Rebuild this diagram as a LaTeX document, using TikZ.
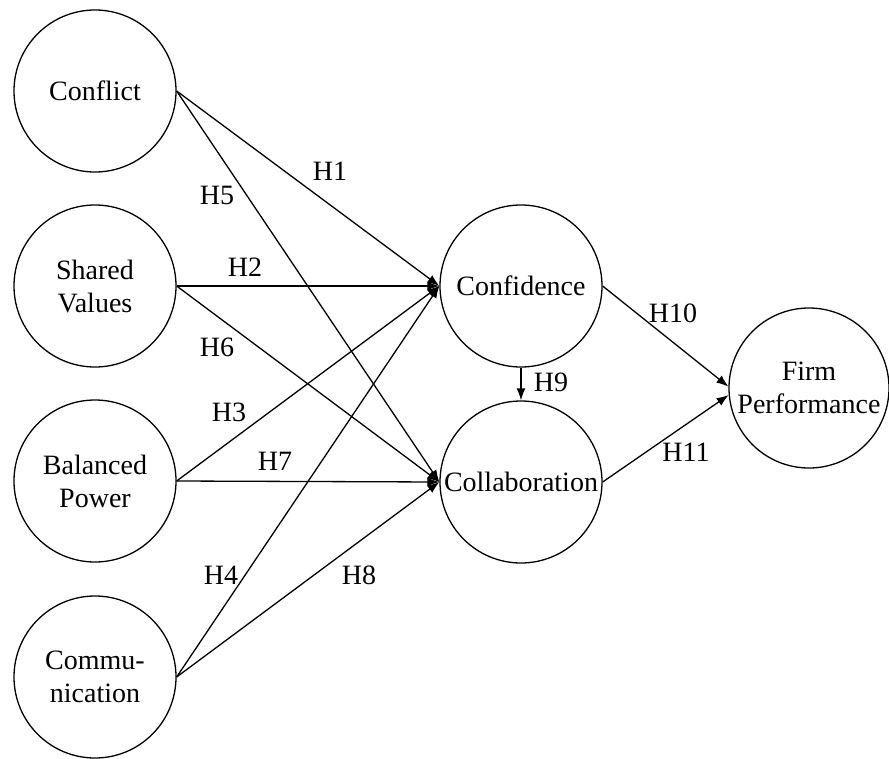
\documentclass[tikz,border=0pt]{standalone}
\usepackage{fontspec}
\setmainfont{Liberation Serif}
\usetikzlibrary{arrows.meta}
\begin{document}
\begin{tikzpicture}[x=1pt,y=-1pt,
  var/.style={circle,draw,line width=1.3pt,minimum size=162pt,inner sep=0pt,align=center,font=\fontsize{28}{33}\selectfont},
  lbl/.style={font=\fontsize{28}{33}\selectfont,inner sep=0pt},
  link/.style={line width=1.3pt,-{Latex[length=12pt,width=9pt]}}]
\useasboundingbox (0,0) rectangle (889,758);
\node[var] (conflict) at (95,91) {Conflict};
\node[var] (shared) at (95,286) {Shared\\Values};
\node[var] (balanced) at (95,481) {Balanced\\Power};
\node[var] (comm) at (95,677) {Commu-\\nication};
\node[var] (conf) at (521,286) {Confidence};
\node[var] (collab) at (521,482) {Collaboration};
\node[var,minimum size=160pt] (firm) at (809,388) {Firm\\Performance};

\draw[link] (conflict.east) -- (conf.west);
\draw[link] (conflict.east) -- (collab.west);
\draw[link] (shared.east) -- (conf.west);
\draw[link] (shared.east) -- (collab.west);
\draw[link] (balanced.east) -- (conf.west);
\draw[link] (balanced.east) -- (collab.west);
\draw[link] (comm.east) -- (conf.west);
\draw[link] (comm.east) -- (collab.west);
\draw[link] (conf.south) -- (collab.north);
\draw[link] (conf.east) -- (firm.179);
\draw[link] (collab.east) -- (firm.185);

\node[lbl] (h1) at (330,171) {H1};
\node[lbl] (h5) at (217,195) {H5};
\node[lbl] (h2) at (245,267) {H2};
\node[lbl] (h6) at (217,347) {H6};
\node[lbl] (h3) at (229,412) {H3};
\node[lbl] (h7) at (275,461) {H7};
\node[lbl] (h4) at (221,575) {H4};
\node[lbl] (h8) at (359,575) {H8};
\node[lbl] (h9) at (551,382) {H9};
\node[lbl] (h10) at (673,313) {H10};
\node[lbl] (h11) at (686,452) {H11};
\end{tikzpicture}
\end{document}
